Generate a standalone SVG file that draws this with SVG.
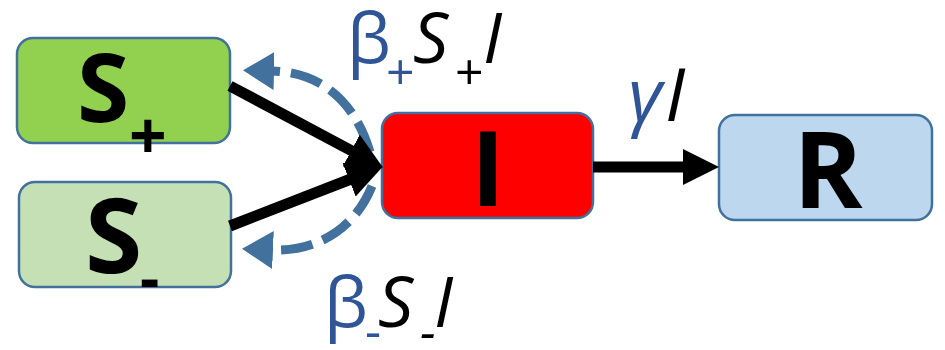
<svg xmlns="http://www.w3.org/2000/svg" width="945" height="350" viewBox="0 0 945 350">
<style>
.box{stroke:#41719C;stroke-width:2.5}
.big{font-family:"Open Sans","Noto Sans","Liberation Sans",sans-serif;font-weight:700;fill:#000}
.lbl{font-family:"Open Sans","Noto Sans","Liberation Sans",sans-serif;font-size:70px}
.blue{fill:#2F5597}
.blk{fill:#000;font-style:italic}
.sub{font-size:50px}
.solid{fill:none;stroke:#000;stroke-width:11}
.dash{fill:none;stroke:#41719C;stroke-width:9;stroke-dasharray:32 11}
</style>
<defs>
<marker id="ah" markerUnits="userSpaceOnUse" markerWidth="36" markerHeight="36" viewBox="0 0 36 36" refX="2" refY="18" orient="auto">
<path d="M0,0 L36,18 L0,36 z" fill="#000"/>
</marker>
<marker id="bh" markerUnits="userSpaceOnUse" markerWidth="31" markerHeight="38" viewBox="0 0 31 38" refX="2" refY="19" orient="auto">
<path d="M0,0 L31,19 L0,38 z" fill="#41719C"/>
</marker>
</defs>
<g id="node-splus">
<rect class="box" x="17" y="38" width="213" height="105" rx="16" fill="#92D050"/>
<text class="big" x="77" y="122" font-size="95">S</text>
<text class="big" x="129" y="159" font-size="66">+</text>
</g>
<g id="node-sminus">
<rect class="box" x="19" y="182" width="212" height="105" rx="16" fill="#C5E0B4"/>
<text class="big" x="85" y="273" font-size="104">S</text>
<text class="big" x="140" y="300" font-size="60">-</text>
</g>
<g id="node-i">
<rect class="box" x="382" y="113" width="211" height="105" rx="16" fill="#FF0000"/>
<text class="big" x="488" y="206" font-size="104" text-anchor="middle">I</text>
</g>
<g id="node-r">
<rect class="box" x="719" y="115" width="213" height="105" rx="16" fill="#BDD7EE"/>
<text class="big" x="828" y="208" font-size="105" text-anchor="middle">R</text>
</g>
<g id="connectors">
<path class="dash" d="M370 152 C353 96 316 72 272 71" marker-end="url(#bh)"/>
<path class="dash" d="M372 186 C355 228 318 252 271 250" marker-end="url(#bh)"/>
<line class="solid" x1="230" y1="86" x2="353" y2="151.5" marker-end="url(#ah)"/>
<line class="solid" x1="230" y1="226" x2="351" y2="179" marker-end="url(#ah)"/>
<line class="solid" x1="593" y1="167" x2="685" y2="167" marker-end="url(#ah)"/>
</g>
<g id="labels">
<text class="lbl"><tspan class="blue" x="347" y="63">β</tspan><tspan class="blue sub" x="386" y="90">+</tspan><tspan class="blk" x="413" y="63">S</tspan><tspan class="blk sub" x="454" y="90">+</tspan><tspan class="blk" x="483" y="63">I</tspan></text>
<text class="lbl"><tspan class="blue" x="324" y="327">β</tspan><tspan class="blue sub" x="365" y="349">-</tspan><tspan class="blk" x="378" y="327">S</tspan><tspan class="blk sub" x="420" y="349">-</tspan><tspan class="blk" x="434" y="327">I</tspan></text>
<text class="lbl"><tspan class="blue" font-style="italic" x="628" y="121" style="font-size:74px">γ</tspan><tspan class="blk" x="665" y="121" style="font-size:74px">I</tspan></text>
</g>
</svg>
